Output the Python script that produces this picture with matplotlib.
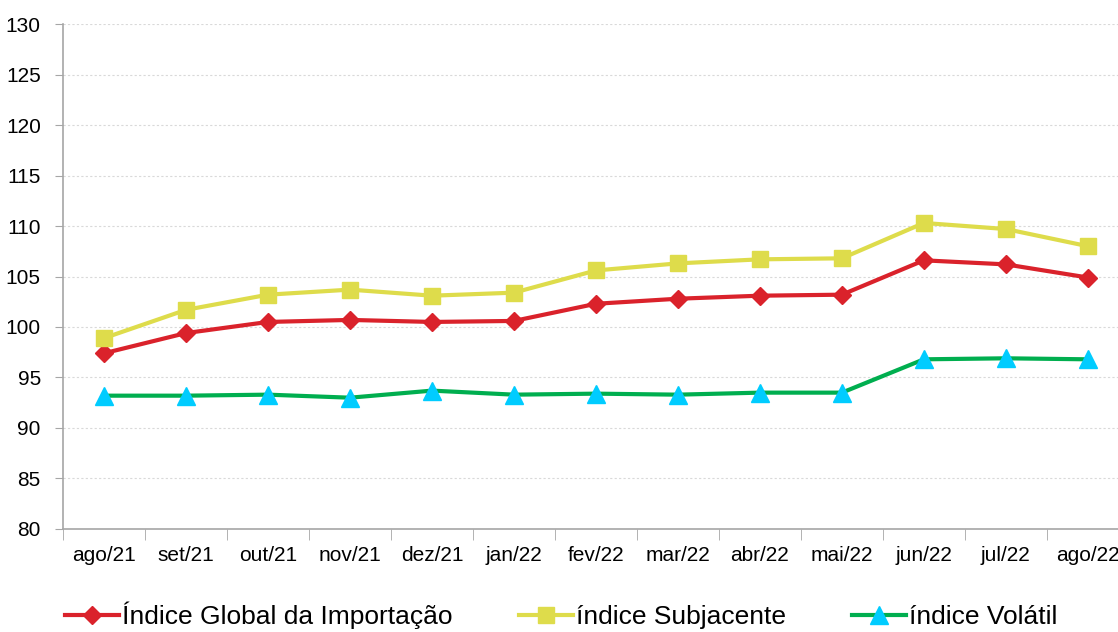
import numpy as np
import matplotlib
matplotlib.use('Agg')
from matplotlib import pyplot as plt

plt.rcParams['font.family'] = ['Liberation Sans', 'DejaVu Sans']

# Data
months = ['ago/21', 'set/21', 'out/21', 'nov/21', 'dez/21', 'jan/22', 'fev/22',
          'mar/22', 'abr/22', 'mai/22', 'jun/22', 'jul/22', 'ago/22']
global_idx = [97.4, 99.4, 100.5, 100.7, 100.5, 100.6, 102.3, 102.8, 103.1, 103.2, 106.6, 106.2, 104.9]
subjacente = [98.9, 101.7, 103.2, 103.7, 103.1, 103.4, 105.6, 106.3, 106.7, 106.8, 110.3, 109.7, 108.0]
volatil = [93.2, 93.2, 93.3, 93.0, 93.7, 93.3, 93.4, 93.3, 93.5, 93.5, 96.8, 96.9, 96.8]

fig = plt.figure(figsize=(11.18, 6.32), dpi=100)
ax = fig.add_axes([0.0564, 0.163, 1.0097 - 0.0564, 0.962 - 0.163])

x = np.arange(len(months))
ax.plot(x, global_idx, color='#DA222B', lw=3, marker='D', ms=9, mfc='#DA222B', mec='#DA222B',
        label='Índice Global da Importação', zorder=3)
ax.plot(x, subjacente, color='#DEDC4B', lw=3, marker='s', ms=12, mfc='#DEDC4B', mec='#DEDC4B',
        label='índice Subjacente', zorder=3)
ax.plot(x, volatil, color='#00AE4F', lw=3, marker='^', ms=13, mfc='#00CCFF', mec='#00CCFF',
        label='índice Volátil', zorder=3)

ax.set_xlim(-0.5, len(months) - 0.5)
ax.set_ylim(80, 130)
ax.set_yticks(np.arange(80, 131, 5))
ax.set_xticks(x)
ax.set_xticklabels(months)
ax.set_xticks(np.arange(-0.5, len(months), 1), minor=True)
ax.tick_params(axis='x', which='major', length=0, pad=12, labelsize=15)
ax.tick_params(axis='x', which='minor', length=8, color='#A6A6A6')
ax.tick_params(axis='y', length=6, color='#A6A6A6', labelsize=15, pad=10)

ax.grid(axis='y', color='#D9D9D9', linestyle=(0, (2, 2)), lw=0.8)
ax.set_axisbelow(True)
for s in ['top', 'right']:
    ax.spines[s].set_visible(False)
for s in ['left', 'bottom']:
    ax.spines[s].set_color('#A6A6A6')
    ax.spines[s].set_linewidth(1.2)

fig.legend(loc='center left', bbox_to_anchor=(0.058, 17 / 632), ncol=3, frameon=False,
           fontsize=19, handlelength=2.05, handletextpad=0.12, columnspacing=2.5,
           borderaxespad=0, borderpad=0)

fig.savefig('out.png', dpi=100)
